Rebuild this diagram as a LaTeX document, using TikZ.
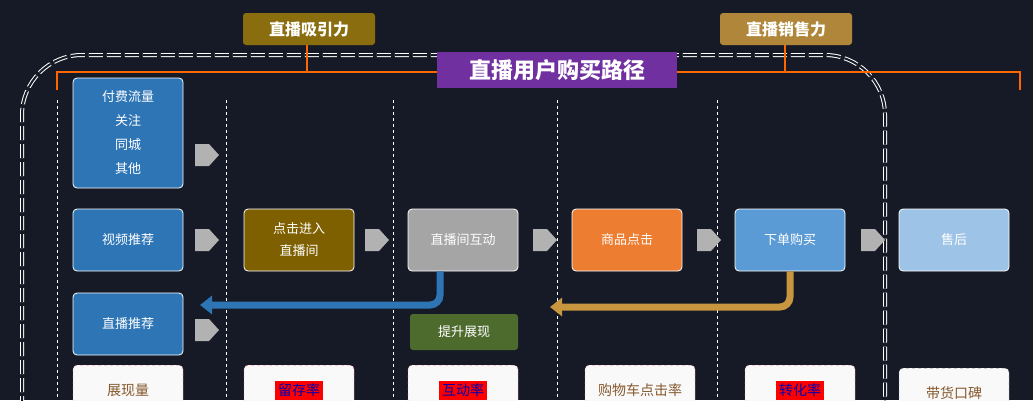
\documentclass[tikz,border=0pt]{standalone}
\usepackage{fontspec}
\newfontfamily\cjk{Noto Sans CJK SC}
\usetikzlibrary{arrows.meta}
\definecolor{bg}{HTML}{161A26}
\begin{document}
\begin{tikzpicture}[x=1pt,y=-1pt,font=\cjk,
 box/.style={draw=white,line width=0.8pt,rounded corners=4pt,text=white,minimum width=110pt,minimum height=62pt,font=\cjk\fontsize{13}{15}\selectfont,align=center},
 tag/.style={rounded corners=3pt,text=white,font=\cjk\bfseries\fontsize{16}{18}\selectfont,minimum width=132pt,minimum height=32pt},
 bot/.style={fill=white!95!gray,draw=red!50,dashed,rounded corners=4pt,minimum width=110pt,minimum height=50pt,anchor=north,font=\cjk\fontsize{14}{16}\selectfont,text=brown!70!black},
 vl/.style={white,dashed,line width=1pt},
 chev/.style={fill=gray!60}]
\useasboundingbox (0,0) rectangle (1033,400);
\fill[bg] (0,0) rectangle (1033,400);
% border
\draw[white,dashed,double=bg,double distance=2pt,line width=1pt,dash pattern=on 14pt off 4pt]
 (22,410) -- (22,115) arc[start angle=180,end angle=270,radius=60] -- (825,55) arc[start angle=270,end angle=360,radius=60] -- (885,410);
% dashed verticals
\foreach \x in {57,226,393,557,717}{\draw[vl] (\x,100) -- (\x,400);}
% bracket
\draw[orange!80!red,line width=2pt] (57,90) -- (57,72) -- (1020,72) -- (1020,90);
\draw[orange!80!red,line width=2pt] (307,72) -- (307,45);
\draw[orange!80!red,line width=2pt] (785,72) -- (785,45);
\node[tag,fill={rgb,255:red,138;green,109;blue,14}] (t1) at (309,29) {直播吸引力};
\node[tag,fill={rgb,255:red,176;green,135;blue,58}] (t2) at (786,29) {直播销售力};
\node[fill={rgb,255:red,112;green,48;blue,160},text=white,font=\cjk\bfseries\fontsize{22}{24}\selectfont,minimum width=240pt,minimum height=36pt] (title) at (557,70) {直播用户购买路径};
% boxes
\node[box,fill={rgb,255:red,46;green,117;blue,182},minimum height=110pt,font=\cjk\fontsize{13}{24}\selectfont] (a1) at (128,133) {付费流量\\关注\\同城\\其他};
\node[box,fill={rgb,255:red,46;green,117;blue,182}] (a2) at (128,240) {视频推荐};
\node[box,fill={rgb,255:red,46;green,117;blue,182}] (a3) at (128,324) {直播推荐};
\node[box,fill={rgb,255:red,127;green,96;blue,0},font=\cjk\fontsize{13}{22}\selectfont] (b) at (299,240) {点击进入\\直播间};
\node[box,fill={rgb,255:red,165;green,165;blue,165}] (c) at (463,240) {直播间互动};
\node[box,fill={rgb,255:red,237;green,125;blue,49}] (d) at (627,240) {商品点击};
\node[box,fill={rgb,255:red,91;green,155;blue,213}] (e) at (790,240) {下单购买};
\node[box,fill={rgb,255:red,157;green,195;blue,230}] (f) at (954,240) {售后};
% chevrons
\foreach \x/\y in {195/155,195/240,365/240,533/240,697/240,861/240,195/330}{
 \fill[chev] (\x,\y-11) -- (\x+14,\y-11) -- (\x+24,\y) -- (\x+14,\y+11) -- (\x,\y+11) -- cycle;}
% feedback arrows
\coordinate (ca) at (200,305);
\coordinate (da) at (550,307);
\draw[line width=7pt,color={rgb,255:red,46;green,117;blue,182},-{Triangle[length=12pt,width=18pt]},rounded corners=10pt] (c.south-|440,0) -- (440,305) -- (ca);
\draw[line width=7pt,color={rgb,255:red,200;green,150;blue,62},-{Triangle[length=12pt,width=18pt]},rounded corners=10pt] (e.south) -- (790,307) -- (da);
\node[fill={rgb,255:red,78;green,107;blue,46},rounded corners=3pt,text=white,minimum width=108pt,minimum height=36pt,font=\cjk\fontsize{13}{15}\selectfont] (g) at (464,332) {提升展现};
% bottom
\node[bot] (m1) at (128,365) {展现量};
\node[bot] (m2) at (299,365) {\colorbox{red}{\textcolor{blue!70!black}{留存率}}};
\node[bot] (m3) at (463,365) {\colorbox{red}{\textcolor{blue!70!black}{互动率}}};
\node[bot] (m4) at (640,365) {购物车点击率};
\node[bot] (m5) at (800,365) {\colorbox{red}{\textcolor{blue!70!black}{转化率}}};
\node[bot,draw=gray] (m6) at (954,368) {带货口碑};
\end{tikzpicture}
\end{document}
